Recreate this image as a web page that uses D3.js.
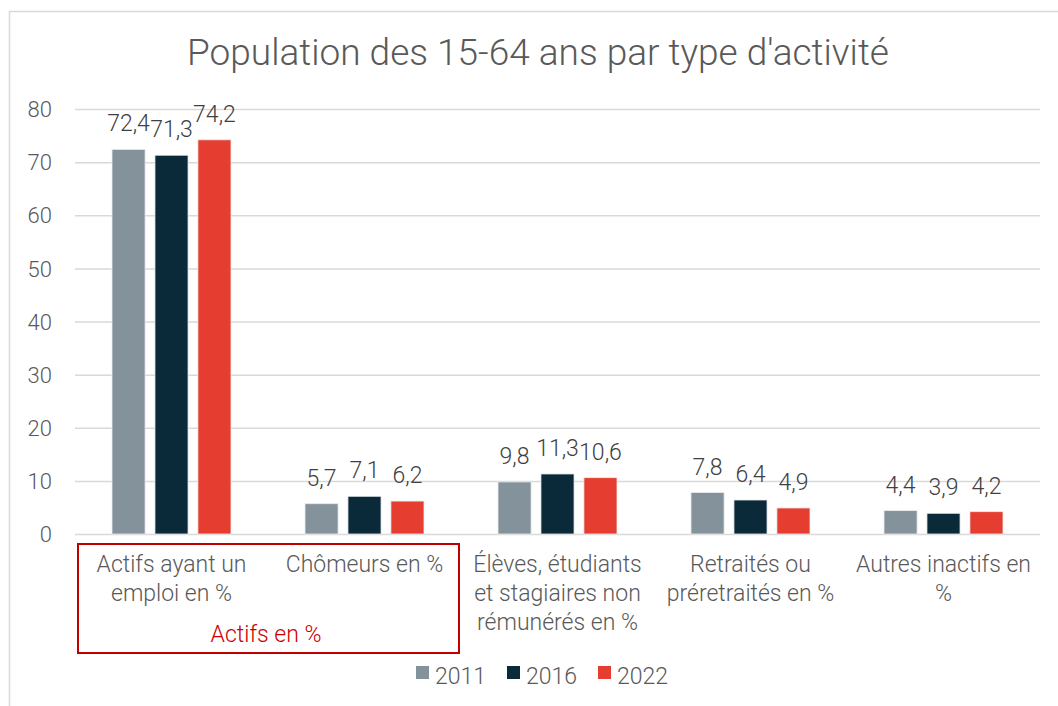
<!DOCTYPE html>
<html>
<head>
<meta charset="utf-8">
<script src="https://cdn.jsdelivr.net/npm/d3@7"></script>
<style>
  body { margin: 0; background: #fff; }
  svg { font-family: Roboto, "Open Sans", sans-serif; font-weight: 300; }
  .tick text { fill: #595959; font-size: 22px; font-family: Roboto, "Open Sans", sans-serif; font-weight: 300; }
</style>
</head>
<body>
<svg id="chart" width="1058" height="706"></svg>
<script>
var categories = ["Actifs ayant un emploi en %", "Chômeurs en %", "Élèves, étudiants et stagiaires non rémunérés en %", "Retraités ou préretraités en %", "Autres inactifs en %"];
var years = ["2011", "2016", "2022"];
var values2011 = [72.4, 5.7, 9.8, 7.8, 4.4];
var values2016 = [71.3, 7.1, 11.3, 6.4, 3.9];
var values2022 = [74.2, 6.2, 10.6, 4.9, 4.2];
var yTicks = [0, 10, 20, 30, 40, 50, 60, 70, 80];
var colors = ["#84939b", "#0a2a3a", "#e53e30"];
var series = [values2011, values2016, values2022];

var svg = d3.select("#chart");
var textColor = "#595959";
var plotLeft = 75, plotRight = 1040, plotTop = 109, plotBottom = 534;

// outer frame
svg.append("path")
    .attr("d", "M9.5,706 V11.5 H1058")
    .attr("fill", "none")
    .attr("stroke", "#d9d9d9")
    .attr("stroke-width", 1.5);

svg.append("text")
    .attr("x", 538)
    .attr("y", 65)
    .attr("text-anchor", "middle")
    .attr("fill", textColor)
    .style("font-size", "37px")
    .text("Population des 15-64 ans par type d'activité");

var x0 = d3.scaleBand().domain(categories).range([plotLeft, plotRight]);
var x1 = d3.scaleBand().domain(years).range([37, 193 - 37]).paddingInner(0.23);
var y = d3.scaleLinear().domain([0, 80]).range([plotBottom, plotTop]);

var yAxis = svg.append("g")
    .attr("transform", "translate(" + plotLeft + ",0)")
    .call(d3.axisLeft(y).tickValues(yTicks).tickSize(-(plotRight - plotLeft)).tickPadding(23));
yAxis.select(".domain").remove();
yAxis.selectAll(".tick line").attr("stroke", "#d9d9d9").attr("stroke-width", 1.5);
yAxis.selectAll(".tick text").attr("dy", "0.35em");

var groups = svg.append("g").selectAll("g")
    .data(categories)
    .join("g")
    .attr("transform", function(d) { return "translate(" + x0(d) + ",0)"; });

var fmt = function(v) { return d3.format(".1f")(v).replace(".", ","); };

groups.each(function(cat, ci) {
    var g = d3.select(this);
    years.forEach(function(yr, si) {
        var v = series[si][ci];
        g.append("rect")
            .attr("x", x1(yr))
            .attr("y", y(v))
            .attr("width", x1.bandwidth())
            .attr("height", y(0) - y(v))
            .attr("fill", colors[si])
            .attr("stroke", "#e8ecee")
            .attr("stroke-width", 0.8);
        g.append("text")
            .attr("x", x1(yr) + x1.bandwidth() / 2)
            .attr("y", y(v) - 18)
            .attr("text-anchor", "middle")
            .attr("fill", "#404040")
            .style("font-size", "23px")
            .text(fmt(v));
    });
});

// category labels
svg.append("g").selectAll("text")
    .data(categories)
    .join("text")
    .attr("x", function(d) { return x0(d) + x0.bandwidth() / 2; })
    .attr("y", 572)
    .attr("text-anchor", "middle")
    .attr("fill", textColor)
    .style("font-size", "23px")
    .text(function(d) { return d; })
    .call(wrap, 188);

// red box around the "actifs" categories
svg.append("rect")
    .attr("x", 78)
    .attr("y", 544)
    .attr("width", 381)
    .attr("height", 109)
    .attr("fill", "none")
    .attr("stroke", "#c00000")
    .attr("stroke-width", 2);
svg.append("text")
    .attr("x", 266)
    .attr("y", 642)
    .attr("text-anchor", "middle")
    .attr("fill", "#cc0000")
    .style("font-size", "23px")
    .text("Actifs en %");

// legend
var legendX = [416, 507, 598];
var legend = svg.append("g").selectAll("g")
    .data(years)
    .join("g")
    .attr("transform", function(d, i) { return "translate(" + legendX[i] + ",666)"; });
legend.append("rect")
    .attr("width", 13)
    .attr("height", 13)
    .attr("fill", function(d, i) { return colors[i]; });
legend.append("text")
    .attr("x", 19)
    .attr("y", 18)
    .attr("fill", textColor)
    .style("font-size", "23px")
    .text(function(d) { return d; });

function wrap(text, width) {
  text.each(function() {
    var text = d3.select(this),
        words = text.text().split(/\s+/).reverse(),
        word,
        line = [],
        lineHeight = 29,
        x = text.attr("x"),
        y = text.attr("y"),
        tspan = text.text(null).append("tspan").attr("x", x).attr("y", y),
        lines = [];
    while (word = words.pop()) {
      line.push(word);
      tspan.text(line.join(" "));
      if (tspan.node().getComputedTextLength() > width && line.length > 1) {
        line.pop();
        lines.push(line);
        line = [word];
        tspan.text(word);
      }
    }
    lines.push(line);
    text.selectAll("*").remove();
    for (var i = 0; i < lines.length; i++) {
      text.append("tspan")
          .attr("x", x)
          .attr("y", parseFloat(y) + lineHeight * i)
          .text(lines[i].join(" "));
    }
  });
}
</script>
</body>
</html>
